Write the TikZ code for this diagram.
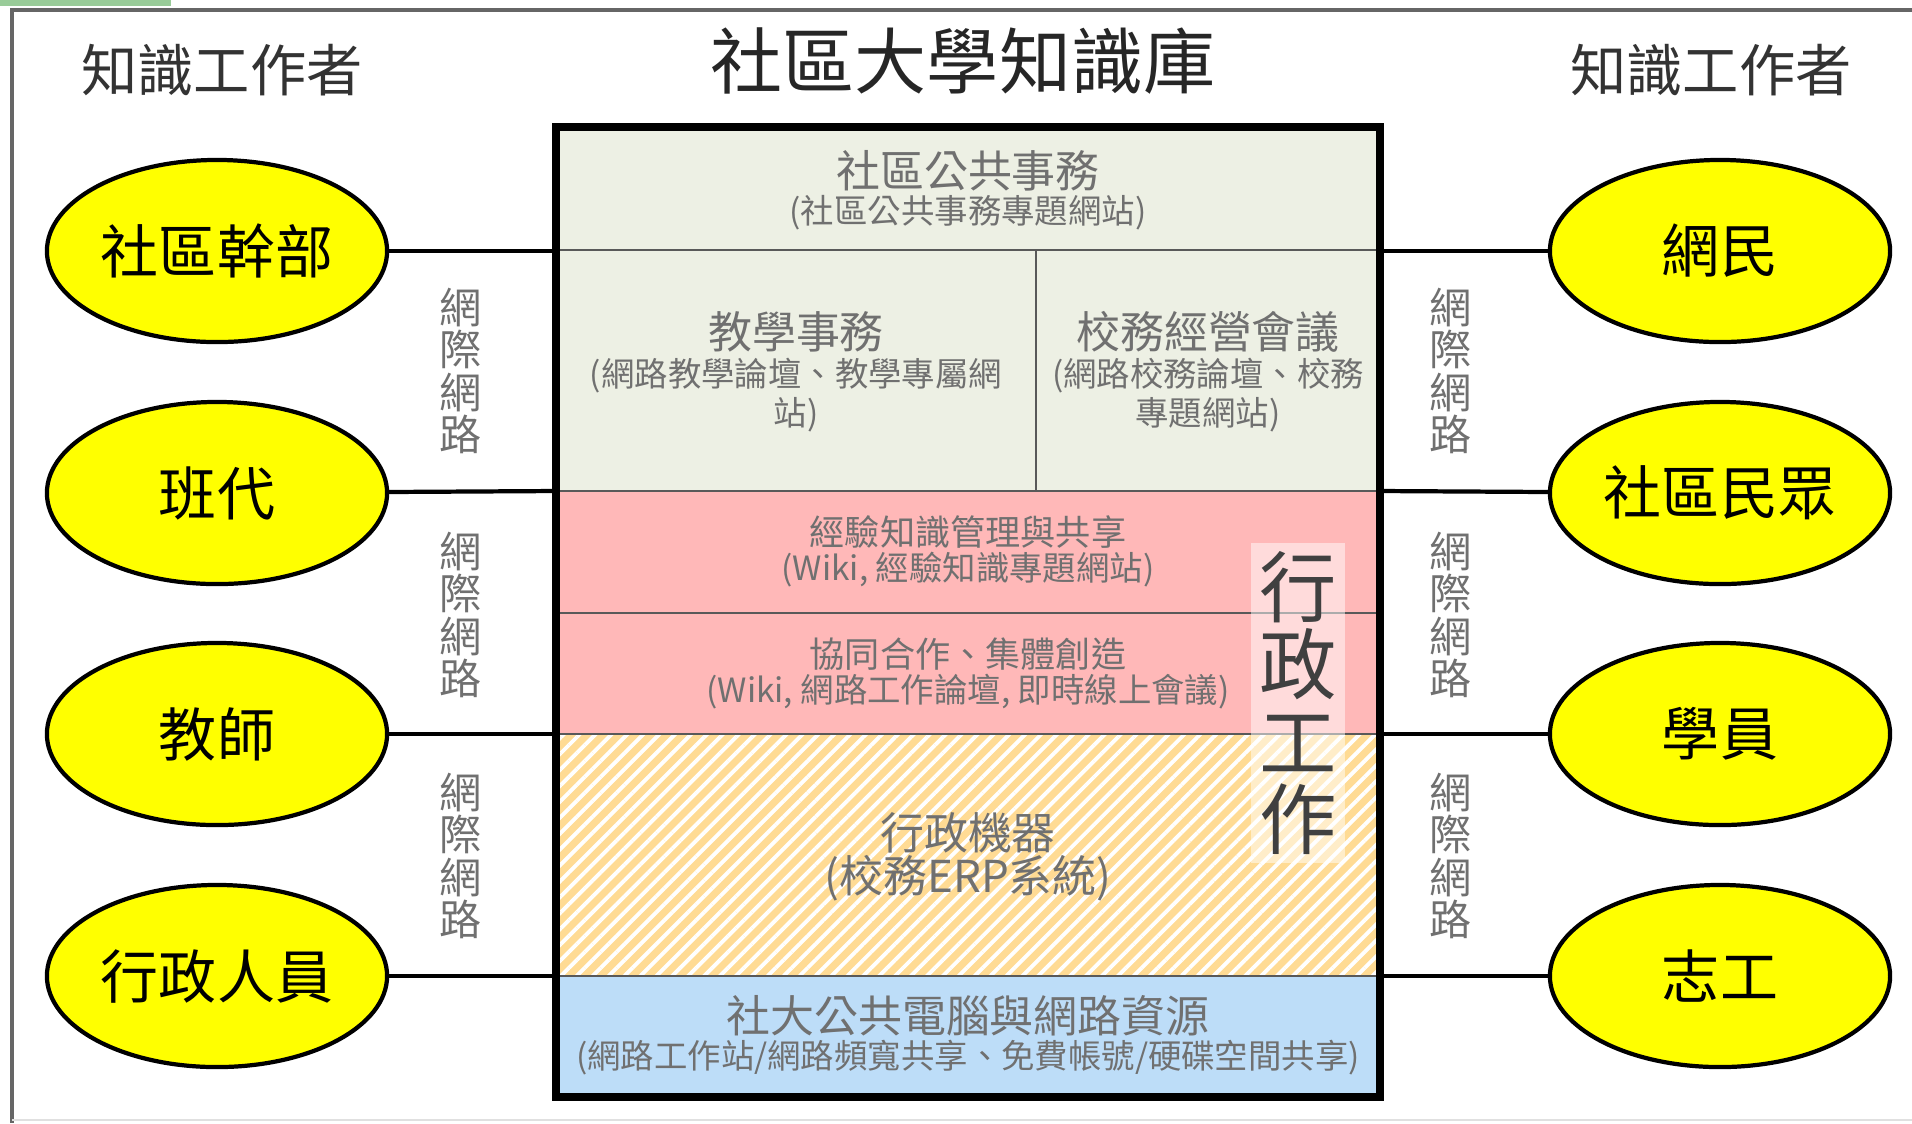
\documentclass[tikz,border=0pt]{standalone}
\usepackage{fontspec}
\newfontfamily\cjk{Noto Sans CJK TC}
\usetikzlibrary{shapes.geometric,patterns.meta}

\definecolor{workeryellow}{HTML}{FFFF00}
\definecolor{affairgreen}{HTML}{EDF0E4}
\definecolor{sharepink}{HTML}{FFB8B8}
\definecolor{erporange}{HTML}{FFDB94}
\definecolor{resblue}{HTML}{BDDDF8}
\definecolor{lblgray}{HTML}{707070}
\definecolor{tabgreen}{HTML}{99CC99}

\tikzset{
  worker/.style={ellipse, draw, line width=1.2pt, fill=workeryellow,
    minimum width=3.4cm, minimum height=1.82cm, inner sep=0pt,
    font=\cjk\fontsize{16.5}{20}\selectfont},
  mainlbl/.style={text=lblgray, inner sep=0pt, font=\cjk\fontsize{12.5}{15}\selectfont},
  midlbl/.style={text=lblgray, inner sep=0pt, font=\cjk\fontsize{10}{12}\selectfont},
  sublbl/.style={text=lblgray, inner sep=0pt, align=center,
    font=\cjk\fontsize{9.5}{11}\selectfont},
  netlbl/.style={text=lblgray, inner sep=0pt, align=center,
    font=\cjk\fontsize{12}{10.5}\selectfont},
  rowline/.style={draw=black!65, line width=0.8pt},
  link/.style={line width=1.2pt},
}

\begin{document}
\begin{tikzpicture}[x=0.01cm, y=-0.01cm]
\useasboundingbox (0,0) rectangle (1912,1123);

% page frame
\fill[tabgreen] (0,0) rectangle (171,6);
\draw[black!60, line width=1pt] (12,1123) -- (12,10) -- (1912,10);
\draw[black!12, line width=0.8pt] (12,1120) -- (1912,1120);

% headings
\node[font=\cjk\fontsize{20.5}{24}\selectfont, text=black!85] (title) at (963,61) {社區大學知識庫};
\node[font=\cjk\fontsize{16}{19}\selectfont, text=black!80] (kwl) at (222,70) {知識工作者};
\node[font=\cjk\fontsize{16}{19}\selectfont, text=black!80] (kwr) at (1711,70) {知識工作者};

% knowledge base rows
\fill[affairgreen] (556,127) rectangle (1380,491);
\fill[sharepink] (556,491) rectangle (1380,734);
\fill[erporange] (556,734) rectangle (1380,976);
\fill[pattern={Lines[angle=45, distance=3.2pt, line width=1.1pt]}, pattern color=white]
  (556,734) rectangle (1380,976);
\fill[resblue] (556,976) rectangle (1380,1097);

\draw[rowline] (556,250) -- (1380,250);
\draw[rowline] (1036,250) -- (1036,491);
\draw[rowline] (556,491) -- (1380,491);
\draw[rowline] (556,613) -- (1380,613);
\draw[rowline] (556,734) -- (1380,734);
\draw[rowline] (556,976) -- (1380,976);
\draw[line width=2.5pt] (556,127) rectangle (1380,1097);

\node[mainlbl] (pub) at (968,171) {社區公共事務};
\node[sublbl] (pubsub) at (968,213) {(社區公共事務專題網站)};
\node[mainlbl] (teach) at (796,332) {教學事務};
\node[sublbl] (teachsub) at (796,395) {(網路教學論壇、教學專屬網\\站)};
\node[mainlbl] (meet) at (1208,332) {校務經營會議};
\node[sublbl] (meetsub) at (1208,395) {(網路校務論壇、校務\\專題網站)};
\node[midlbl] (share) at (968,532) {經驗知識管理與共享};
\node[sublbl] (sharesub) at (968,570) {(Wiki, 經驗知識專題網站)};
\node[midlbl] (coop) at (968,654) {協同合作、集體創造};
\node[sublbl] (coopsub) at (968,692) {(Wiki, 網路工作論壇, 即時線上會議)};
\node[mainlbl] (erp) at (968,833) {行政機器};
\node[mainlbl] (erpsub) at (968,878) {(校務ERP系統)};
\node[mainlbl] (res) at (968,1016) {社大公共電腦與網路資源};
\node[sublbl] (ressub) at (968,1058) {(網路工作站/網路頻寬共享、免費帳號/硬碟空間共享)};

\node[fill=white, fill opacity=0.5, text opacity=1, text=black!75, inner sep=0.08cm,
  align=center, font=\cjk\fontsize{22}{22}\selectfont] (admin) at (1298,703) {行\\政\\工\\作};

% link ends on the box
\coordinate (l1) at (556,251);
\coordinate (l2) at (556,491);
\coordinate (l3) at (556,734);
\coordinate (l4) at (556,976);
\coordinate (r1) at (1380,251);
\coordinate (r2) at (1380,491);
\coordinate (r3) at (1380,734);
\coordinate (r4) at (1380,976);

% knowledge workers
\node[worker] (cadre) at (217,251) {社區幹部};
\node[worker] (rep) at (217,493) {班代};
\node[worker] (teacher) at (217,734) {教師};
\node[worker] (staff) at (217,976) {行政人員};
\node[worker] (netizen) at (1720,251) {網民};
\node[worker] (citizen) at (1720,493) {社區民眾};
\node[worker] (student) at (1720,734) {學員};
\node[worker] (volunteer) at (1720,976) {志工};

\draw[link] (cadre) -- (l1);
\draw[link] (rep) -- (l2);
\draw[link] (teacher) -- (l3);
\draw[link] (staff) -- (l4);
\draw[link] (r1) -- (netizen);
\draw[link] (r2) -- (citizen);
\draw[link] (r3) -- (student);
\draw[link] (r4) -- (volunteer);

\node[netlbl] (netl1) at (461,371) {網\\際\\網\\路};
\node[netlbl] (netl2) at (461,615) {網\\際\\網\\路};
\node[netlbl] (netl3) at (461,856) {網\\際\\網\\路};
\node[netlbl] (netr1) at (1451,371) {網\\際\\網\\路};
\node[netlbl] (netr2) at (1451,615) {網\\際\\網\\路};
\node[netlbl] (netr3) at (1451,856) {網\\際\\網\\路};
\end{tikzpicture}
\end{document}
